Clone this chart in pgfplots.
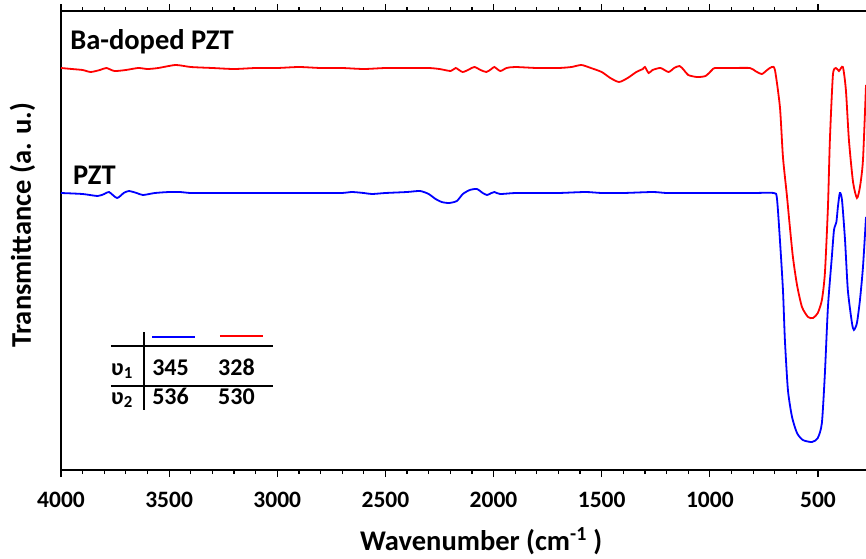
\documentclass[border=0pt]{standalone}
\usepackage{pgfplots}
\pgfplotsset{compat=1.18}
\usepackage{pgfplotstable}
\usepackage{fontspec}
\setmainfont{Carlito}
\usetikzlibrary{calc}

% w = wavenumber (cm^-1), py = vertical position (pixels from top)
\pgfplotstableread{
w py
4000 68
3950 69
3900 70
3863 72
3820 70
3790 68
3753 71
3700 70
3643 68
3600 69
3550 68
3470 65
3400 67
3300 68
3200 69
3100 68
3000 68
2900 67
2800 68
2700 68
2600 69
2500 68
2400 68
2300 68
2250 69
2198 71
2175 68
2143 72
2110 69
2088 67
2060 70
2033 72
2010 69
1996 67
1969 71
1940 68
1900 67
1800 68
1700 68
1640 67
1594 65
1550 68
1500 72
1460 78
1420 82
1380 78
1340 72
1310 69
1300 67
1283 73
1265 70
1228 68
1191 72
1165 68
1140 66
1120 70
1100 75
1060 77
1020 76
990 70
976 68
900 68
815 68
790 71
760 74
735 70
714 67
699 70
676 107
662 157
644 195
630 227
616 257
597 285
574 307
546 317
523 318
501 313
482 300
468 273
454 207
445 140
431 75
417 68
403 71
385 67
371 90
357 140
338 182
320 198
306 187
292 160
278 85
}\reddata

\pgfplotstableread{
w py
4000 193
3900 194
3831 196
3800 194
3778 192
3741 198
3710 193
3686 191
3650 193
3621 195
3566 193
3500 192
3450 192
3400 193
3300 193
3200 193
3100 193
3000 193
2900 193
2800 193
2700 193
2655 192
2600 193
2562 194
2500 193
2400 192
2340 191
2300 194
2268 199
2240 202
2206 203
2170 201
2142 194
2110 190
2077 189
2050 193
2030 195
2010 193
1996 192
1970 194
1900 193
1800 193
1700 193
1575 192
1500 193
1400 193
1264 192
1200 193
1100 193
1000 193
900 193
800 193
705 193
690 198
676 240
662 290
653 340
639 390
620 417
597 433
570 440
528 442
501 438
482 423
468 373
454 307
436 257
426 230
415 222
408 207
399 193
389 200
375 240
362 290
343 323
334 330
320 323
306 300
292 267
278 217
}\bluedata

\begin{document}
\begin{tikzpicture}
\begin{axis}[
  scale only axis, width=805pt, height=459pt,
  xmin=-4000, xmax=-278, ymin=0, ymax=459,
  axis x line=box, axis y line=left,
  x axis line style={-}, y axis line style={-},
  axis line style={line width=1.5pt, black},
  xtick={-4000,-3500,-3000,-2500,-2000,-1500,-1000,-500},
  xticklabels={4000,3500,3000,2500,2000,1500,1000,500},
  minor x tick num=4,
  ytick=\empty,
  tick align=outside,
  major tick length=7pt, minor tick length=4pt,
  every tick/.style={black, line width=1.2pt},
  xticklabel style={font=\fontsize{23.5}{28}\selectfont\bfseries, yshift=-12pt},
  xlabel={Wavenumber (cm\textsuperscript{-1} )},
  ylabel={Transmittance (a. u.)},
  label style={font=\fontsize{28.5}{34}\selectfont\bfseries},
  xlabel style={at={(axis description cs:0.522,0)}, anchor=base, yshift=-80pt},
  ylabel style={at={(axis description cs:-0.048,0.534)}, anchor=center, rotate=0},
  clip=true,
]
\addplot[red, line width=1.8pt, smooth, tension=0.4] table[x expr=-\thisrow{w}, y expr=470-\thisrow{py}] {\reddata};
\addplot[blue, line width=1.8pt, smooth, tension=0.4] table[x expr=-\thisrow{w}, y expr=470-\thisrow{py}] {\bluedata};

\node[anchor=base west, inner sep=0pt, font=\fontsize{28.5}{34}\selectfont\bfseries] at (axis cs:-3958,421) {Ba-doped PZT};
\node[anchor=base west, inner sep=0pt, font=\fontsize{28.5}{34}\selectfont\bfseries] at (axis cs:-3945,286) {PZT};

% inset table
\draw[line width=1.5pt] (axis cs:-3616,138) -- (axis cs:-3616,60);
\draw[line width=1.5pt] (axis cs:-3769,124) -- (axis cs:-3020,124);
\draw[line width=1.5pt] (axis cs:-3769,84) -- (axis cs:-3020,84);
\draw[blue, line width=1.8pt] (axis cs:-3579,133) -- (axis cs:-3380,133);
\draw[red, line width=1.8pt] (axis cs:-3265,134) -- (axis cs:-3066,134);
\begin{scope}[every node/.style={anchor=base west, inner sep=0pt, font=\fontsize{24}{28}\selectfont\bfseries}]
\node at (axis cs:-3769,95) {ʋ\textsubscript{1}};
\node at (axis cs:-3579,95) {345};
\node at (axis cs:-3274,95) {328};
\node at (axis cs:-3769,66) {ʋ\textsubscript{2}};
\node at (axis cs:-3579,66) {536};
\node at (axis cs:-3274,66) {530};
\end{scope}
\end{axis}
\pgfresetboundingbox
\path[use as bounding box] ($(current axis.south west)+(-61pt,-88pt)$) rectangle ($(current axis.north east)+(0pt,11pt)$);
\end{tikzpicture}
\end{document}
